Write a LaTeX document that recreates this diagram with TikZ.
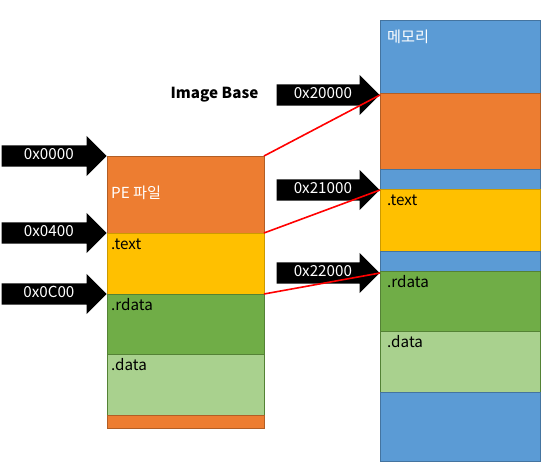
\documentclass[tikz,border=0pt]{standalone}
\usepackage{fontspec}
\setmainfont{Noto Sans CJK KR}
\usetikzlibrary{positioning,shapes.arrows}
\definecolor{segorange}{HTML}{ED7D31}
\definecolor{segyellow}{HTML}{FFC000}
\definecolor{seggreen}{HTML}{70AD47}
\definecolor{seglight}{HTML}{A9D18E}
\definecolor{segblue}{HTML}{5B9BD5}
\newcommand\segfont{\fontsize{15.2}{18}\selectfont}
\tikzset{
  seg/.style={
    shape = rectangle,
    draw,
    line width = 0.8pt,
    inner sep = 0pt,
    outer sep = 0pt,
    anchor = north west
  },
  peseg/.style={seg, minimum width=157pt},
  memseg/.style={seg, minimum width=160pt},
  orangeseg/.style={fill=segorange, draw=segorange!75!black},
  yellowseg/.style={fill=segyellow, draw=segyellow!80!black},
  greenseg/.style={fill=seggreen, draw=seggreen!75!black},
  lightseg/.style={fill=seglight, draw=seggreen!75!black},
  blueseg/.style={fill=segblue, draw=segblue!75!black},
  tag/.style={
    anchor = north west,
    inner xsep = 4pt,
    inner ysep = 4.5pt,
    text height = 12pt,
    text depth = 3pt,
    font = \segfont
  },
  addr/.style={
    single arrow,
    fill = black,
    text = white,
    anchor = tip,
    single arrow head extend = 9.5pt,
    text height = 10.5pt,
    text depth = 3.5pt,
    inner ysep = 3.5pt,
    inner xsep = 2pt,
    minimum width = 0pt,
    font = \segfont
  },
  link/.style={red, line width=1.6pt}
}

\begin{document}
\begin{tikzpicture}[x=1pt, y=-1pt, node distance=0pt]
    \useasboundingbox (0,0) rectangle (546,465);

    % PE file on disk
    \node[peseg, orangeseg, minimum height=77pt] (pe) at (107,156) {};
    \node[peseg, yellowseg, minimum height=61pt, below=of pe] (ptext) {};
    \node[peseg, greenseg, minimum height=60pt, below=of ptext] (prdata) {};
    \node[peseg, lightseg, minimum height=61pt, below=of prdata] (pdata) {};
    \node[peseg, orangeseg, minimum height=13pt, below=of pdata] (ptail) {};

    \node[tag, anchor=west, text=white] (pelbl) at (pe.west) {PE 파일};
    \node[tag] (ptextlbl) at (ptext.north west) {.text};
    \node[tag] (prdatalbl) at (prdata.north west) {.rdata};
    \node[tag] (pdatalbl) at (pdata.north west) {.data};

    % memory
    \node[memseg, blueseg, minimum height=73pt] (mhead) at (380,20) {};
    \node[memseg, orangeseg, minimum height=76pt, below=of mhead] (mpe) {};
    \node[memseg, blueseg, minimum height=20pt, below=of mpe] (mgapa) {};
    \node[memseg, yellowseg, minimum height=62pt, below=of mgapa] (mtext) {};
    \node[memseg, blueseg, minimum height=20pt, below=of mtext] (mgapb) {};
    \node[memseg, greenseg, minimum height=60pt, below=of mgapb] (mrdata) {};
    \node[memseg, lightseg, minimum height=61pt, below=of mrdata] (mdata) {};
    \node[memseg, blueseg, minimum height=69pt, below=of mdata] (mtail) {};

    \node[tag, inner xsep=7pt, yshift=-6pt, text=white] (mheadlbl) at (mhead.north west) {메모리};
    \node[tag, inner xsep=7pt] (mtextlbl) at (mtext.north west) {.text};
    \node[tag, inner xsep=7pt] (mrdatalbl) at (mrdata.north west) {.rdata};
    \node[tag, inner xsep=7pt] (mdatalbl) at (mdata.north west) {.data};

    % offsets
    \node[addr, minimum height=105pt] (a0) at (pe.north west) {0x0000};
    \node[addr, minimum height=105pt] (a4) at (ptext.north west) {0x0400};
    \node[addr, minimum height=105pt] (ac) at (prdata.north west) {0x0C00};

    \node[addr, minimum height=103pt] (m20) at ([yshift=-2pt]mpe.north west) {0x20000};
    \node[addr, minimum height=103pt] (m21) at ([yshift=-1pt]mtext.north west) {0x21000};
    \node[addr, minimum height=103pt] (m22) at ([yshift=-2pt]mrdata.north west) {0x22000};

    \node[font=\segfont\bfseries, inner sep=0pt, left=18pt of m20.tail] (imgbase) {Image Base};

    \draw[link] (pe.north east) -- (m20.tip);
    \draw[link] (ptext.north east) -- (m21.tip);
    \draw[link] (prdata.north east) -- (m22.tip);
\end{tikzpicture}
\end{document}
